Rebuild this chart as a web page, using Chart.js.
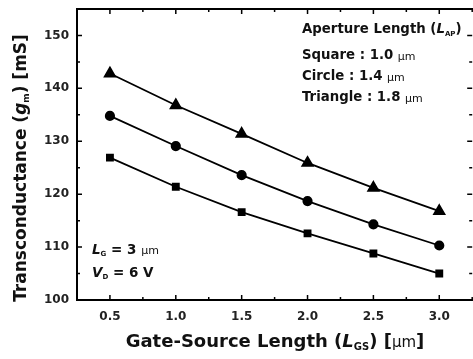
<!DOCTYPE html>
<html>
<head>
<meta charset="utf-8">
<script src="https://cdn.jsdelivr.net/npm/chart.js@4/dist/chart.umd.min.js"></script>
<style>
html,body{margin:0;padding:0;background:#fff;overflow:hidden;}
#wrap{width:473px;height:359px;position:relative;overflow:hidden;}
</style>
</head>
<body>
<div id="wrap"><canvas id="c" width="480" height="359"></canvas></div>
<script>
const xValues = [0.5, 1.0, 1.5, 2.0, 2.5, 3.0];
const squareVals = [126.9, 121.4, 116.6, 112.6, 108.8, 105.0];
const circleVals = [134.8, 129.1, 123.6, 118.7, 114.3, 110.3];
const triangleVals = [142.8, 136.8, 131.4, 125.9, 121.2, 116.8];
const xTicks = [0.5, 1.0, 1.5, 2.0, 2.5, 3.0];
const yTicks = [100, 110, 120, 130, 140, 150];
const xMinorTicks = [0.25, 0.75, 1.25, 1.75, 2.25, 2.75, 3.25];
const yMinorTicks = [105, 115, 125, 135, 145];

const FONT = '"DejaVu Sans", "Liberation Sans", Arial, sans-serif';

function pts(vals){ return xValues.map((x,i)=>({x:x, y:vals[i]})); }

function drawRich(ctx, runs, x, y, size, align){
  const fontFor = (k)=>{
    if(k==='i') return 'italic bold '+size+'px '+FONT;
    if(k==='s') return 'bold '+Math.round(size*0.55)+'px '+FONT;
    if(k==='u') return Math.round(size*0.85)+'px '+FONT;
    return 'bold '+size+'px '+FONT;
  };
  let total=0;
  runs.forEach(r=>{ctx.font=fontFor(r[1]); total+=ctx.measureText(r[0]).width;});
  let cx = align==='center' ? x-total/2 : x;
  ctx.textBaseline='middle';
  ctx.textAlign='left';
  runs.forEach(r=>{
    ctx.font=fontFor(r[1]);
    const dy = r[1]==='s' ? size*0.3 : (r[1]==='u' ? size*0.05 : 0);
    ctx.fillText(r[0], cx, y+dy);
    cx += ctx.measureText(r[0]).width;
  });
}

const framePlugin = {
  id:'frame',
  afterDraw(chart){
    const ctx=chart.ctx, a=chart.chartArea;
    const xs=chart.scales.x, ys=chart.scales.y;
    ctx.save();
    ctx.strokeStyle='#000';
    ctx.lineWidth=2;
    ctx.beginPath();
    ctx.moveTo(a.right+2, a.top); ctx.lineTo(a.left, a.top); ctx.lineTo(a.left, a.bottom); ctx.lineTo(a.right+2, a.bottom);
    ctx.stroke();
    ctx.lineWidth=1.5;
    ctx.beginPath();
    const maj=5, min=3;
    xTicks.forEach(v=>{const p=xs.getPixelForValue(v);
      ctx.moveTo(p,a.bottom);ctx.lineTo(p,a.bottom-maj);
      ctx.moveTo(p,a.top);ctx.lineTo(p,a.top+maj);});
    xMinorTicks.forEach(v=>{const p=xs.getPixelForValue(v);
      ctx.moveTo(p,a.bottom);ctx.lineTo(p,a.bottom-min);
      ctx.moveTo(p,a.top);ctx.lineTo(p,a.top+min);});
    yTicks.forEach(v=>{const p=ys.getPixelForValue(v);
      ctx.moveTo(a.left,p);ctx.lineTo(a.left+maj,p);
      ctx.moveTo(a.right,p);ctx.lineTo(a.right-maj,p);});
    yMinorTicks.forEach(v=>{const p=ys.getPixelForValue(v);
      ctx.moveTo(a.left,p);ctx.lineTo(a.left+min,p);
      ctx.moveTo(a.right,p);ctx.lineTo(a.right-min,p);});
    ctx.stroke();

    ctx.fillStyle='#111';
    drawRich(ctx, [['Gate-Source Length (','n'],['L','i'],['GS','s'],[') [','n'],['\u03bcm','u'],[']','n']], 275, 342, 18, 'center');
    ctx.save();
    ctx.translate(22, 168);
    ctx.rotate(-Math.PI/2);
    drawRich(ctx, [['Transconductance (','n'],['g','i'],['m','s'],[') [mS]','n']], 0, 0, 17, 'center');
    ctx.restore();
    drawRich(ctx, [['Aperture Length (','n'],['L','i'],['AP','s'],[')','n']], 302, 30, 13.3, 'left');
    drawRich(ctx, [['Square : 1.0 ','n'],['\u03bcm','u']], 302, 56, 13.3, 'left');
    drawRich(ctx, [['Circle : 1.4 ','n'],['\u03bcm','u']], 302, 77, 13.3, 'left');
    drawRich(ctx, [['Triangle : 1.8 ','n'],['\u03bcm','u']], 302, 98, 13.3, 'left');
    drawRich(ctx, [['L','i'],['G','s'],[' = 3 ','n'],['\u03bcm','u']], 92, 250, 13.5, 'left');
    drawRich(ctx, [['V','i'],['D','s'],[' = 6 V','n']], 92, 273, 13.5, 'left');
    ctx.restore();
  }
};

const common = {borderColor:'#000', backgroundColor:'#000', borderWidth:1.8, pointBorderColor:'#000', pointBackgroundColor:'#000', tension:0};

new Chart(document.getElementById('c'), {
  type:'line',
  data:{datasets:[
    Object.assign({label:'Square', data:pts(squareVals), pointStyle:'rect', pointRadius:4.3}, common),
    Object.assign({label:'Circle', data:pts(circleVals), pointStyle:'circle', pointRadius:4.2}, common),
    Object.assign({label:'Triangle', data:pts(triangleVals), pointStyle:'triangle', pointRadius:6}, common)
  ]},
  options:{
    responsive:false, animation:false, devicePixelRatio:1,
    layout:{padding:{top:9,right:0,left:0,bottom:0}},
    plugins:{legend:{display:false}, tooltip:{enabled:false}},
    scales:{
      x:{type:'linear', min:0.25, max:3.25,
        grid:{display:false, drawTicks:false}, border:{display:false},
        afterBuildTicks:(s)=>{s.ticks=xTicks.map(v=>({value:v}));},
        afterFit:(s)=>{s.height=59; s.paddingLeft=0; s.paddingRight=0;},
        ticks:{padding:10, color:'#222', font:{family:FONT, size:12, weight:'bold'}, maxRotation:0,
          callback:(v)=>Number(v).toFixed(1)}},
      y:{type:'linear', min:100, max:155,
        grid:{display:false, drawTicks:false}, border:{display:false},
        afterBuildTicks:(s)=>{s.ticks=yTicks.map(v=>({value:v}));},
        afterFit:(s)=>{s.width=77; s.paddingTop=0; s.paddingBottom=0;},
        ticks:{padding:8, color:'#222', font:{family:FONT, size:12, weight:'bold'}}}
    }
  },
  plugins:[framePlugin]
});
</script>
</body>
</html>
